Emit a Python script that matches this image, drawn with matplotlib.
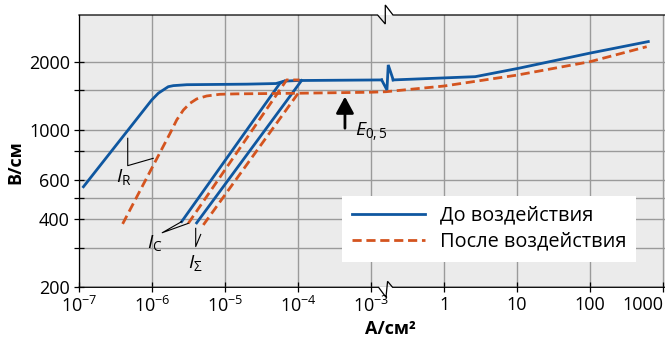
import numpy as np
import matplotlib
matplotlib.use("Agg")
import matplotlib.pyplot as plt
from matplotlib.lines import Line2D
from matplotlib.transforms import IdentityTransform
from matplotlib.ticker import FixedLocator, FixedFormatter, NullLocator

plt.rcParams['font.family'] = ['Open Sans', 'DejaVu Sans']
plt.rcParams['mathtext.fontset'] = 'custom'
plt.rcParams['mathtext.rm'] = 'Open Sans'
plt.rcParams['mathtext.it'] = 'Open Sans:italic'
plt.rcParams['mathtext.bf'] = 'Open Sans:bold'

BLUE = '#0f57a0'
ORANGE = '#d4541f'

# --- до воздействия (x: А/см2, y: В/см)
r_before_x = [1.15e-7, 9.9e-7, 1.22e-6, 1.43e-6, 1.67e-6, 1.96e-6, 3.0e-6, 2.0e-5, 5.0e-5, 6.5e-5, 1.0e-4, 1.4e-3]
r_before_y = [558, 1352, 1449, 1499, 1549, 1566, 1581, 1590, 1600, 1640, 1650, 1660]
c_before_x = [2.55e-6, 5.66e-5, 6.5e-5]
c_before_y = [391, 1604, 1640]
s_before_x = [4.09e-6, 1.12e-4]
s_before_y = [386, 1650]
hi_before_x = [0.2, 2.67, 10.6, 98, 627]
hi_before_y = [1660, 1716, 1871, 2180, 2455]

# --- после воздействия
r_after_x = [3.96e-7, 1.77e-6, 2.18e-6, 2.69e-6, 3.32e-6, 4.09e-6, 5.61e-6, 8.55e-6, 1.45e-5,
             1.0e-4, 1.0e-3, 0.16, 1.0, 10, 100, 596]
r_after_y = [382, 963, 1103, 1221, 1308, 1367, 1409, 1434, 1440,
             1449, 1464, 1472, 1560, 1744, 2000, 2330]
c_after_x = [3.14e-6, 7.0e-5, 1.05e-4]
c_after_y = [384, 1660, 1660]
s_after_x = [5.05e-6, 1.0e-4]
s_after_y = [378, 1445]

x_ticks = [1e-7, 1e-6, 1e-5, 1e-4, 1e-3, 1, 10, 100, 1000]
x_labels = ['$10^{-7}$', '$10^{-6}$', '$10^{-5}$', '$10^{-4}$', '$10^{-3}$', '1', '10', '100', '1000']
y_ticks = [200, 300, 400, 500, 600, 800, 1000, 1500, 2000]
y_labels = ['200', '', '400', '', '600', '', '1000', '', '2000']

legend_labels = ['До воздействия', 'После воздействия']

# broken log axis: decades between 10^-2.8 and 10^-0.8 are squeezed out
BRK_A, BRK_B, EPS = -2.8, -0.8, 1e-3
GAP = (BRK_B - BRK_A) * (1 - EPS)


def fwd(x):
    u = np.log10(np.maximum(np.asarray(x, float), 1e-300))
    return np.where(u <= BRK_A, u,
                    np.where(u >= BRK_B, u - GAP, BRK_A + (u - BRK_A) * EPS))


def inv(t):
    t = np.asarray(t, float)
    t1 = BRK_A + (BRK_B - BRK_A) * EPS
    with np.errstate(over='ignore'):
        mid = 10 ** np.clip(BRK_A + (t - BRK_A) / EPS, -300, 300)
    return np.where(t <= BRK_A, 10 ** t, np.where(t >= t1, 10 ** (t + GAP), mid))


fig = plt.figure(figsize=(6.65, 3.4), dpi=100)
ax = fig.add_axes([79 / 665, 52.7 / 340, 591.4 / 665, 272.3 / 340])
ax.set_facecolor('#ebebeb')
ax.set_yscale('log')
ax.set_xscale('function', functions=(fwd, inv))
ax.set_xlim(1e-7, 10 ** 3.1)
ax.set_ylim(200, 3220)

ax.xaxis.set_major_locator(FixedLocator(x_ticks))
ax.xaxis.set_major_formatter(FixedFormatter(x_labels))
ax.xaxis.set_minor_locator(NullLocator())
ax.yaxis.set_major_locator(FixedLocator(y_ticks))
ax.yaxis.set_major_formatter(FixedFormatter(y_labels))
ax.yaxis.set_minor_locator(NullLocator())
ax.grid(True, color='#9a9a9a', lw=1.0)
ax.set_axisbelow(True)
ax.tick_params(axis='both', direction='inout', length=7, width=0.9, labelsize=13, pad=3)
for sp in ['top', 'bottom', 'right']:
    ax.spines[sp].set_visible(False)
ax.spines['left'].set_linewidth(0.9)

lw = 2.0
dash = (0, (3.3, 1.7))
ax.plot(r_before_x, r_before_y, color=BLUE, lw=lw)
ax.plot(c_before_x, c_before_y, color=BLUE, lw=lw)
ax.plot(s_before_x, s_before_y, color=BLUE, lw=lw)
ax.plot(hi_before_x, hi_before_y, color=BLUE, lw=lw)
ax.plot(r_after_x, r_after_y, color=ORANGE, lw=lw, ls=dash)
ax.plot(c_after_x, c_after_y, color=ORANGE, lw=lw, ls=dash)
ax.plot(s_after_x, s_after_y, color=ORANGE, lw=lw, ls=dash)

# leaders and labels
lk = dict(color='black', lw=0.8)
ax.plot([4.65e-7, 4.65e-7, 1.04e-6], [915, 692, 746], **lk)
ax.plot([2.55e-6, 1.38e-6, 3.14e-6], [391, 349, 384], **lk)
ax.plot([3.97e-6, 3.97e-6, 4.65e-6], [365, 303, 343], **lk)
ax.text(4.13e-7, 617, r'$I_{\mathrm{R}}$', fontsize=14, ha='center', va='center')
ax.text(1.10e-6, 314, r'$I_{\mathrm{C}}$', fontsize=14, ha='center', va='center')
ax.text(3.88e-6, 256, r'$I_{\Sigma}$', fontsize=14, ha='center', va='center')

ax.annotate('', xy=(4.4e-4, 1400), xytext=(4.4e-4, 1014),
            arrowprops=dict(arrowstyle='-|>,head_length=0.5,head_width=0.27',
                            color='black', lw=2, mutation_scale=20, shrinkA=0, shrinkB=0))
ax.text(6.04e-4, 976, r'$E_{\mathrm{0,5}}$', fontsize=14, ha='left', va='center')

xt = ax.get_xticklabels()
xt[-1].set_horizontalalignment('right')

handles = [Line2D([], [], color=BLUE, lw=lw), Line2D([], [], color=ORANGE, lw=lw, ls=dash)]
ax.legend(handles, legend_labels, loc='lower left', bbox_to_anchor=(0.444, 0.094),
          borderaxespad=0, fancybox=False, edgecolor='none', facecolor='white', framealpha=1,
          fontsize=14.3, handlelength=3.7, handletextpad=0.75, borderpad=0.5, labelspacing=0.3)

fig.text(15 / 665, 1 - 161.7 / 340, 'В/см', rotation=90, fontsize=13, fontweight='bold',
         ha='center', va='center')
fig.text(390 / 665, 1 - 329 / 340, 'А/см²', fontsize=13, fontweight='bold',
         ha='center', va='center')

# spine breaks and the break on the "before" line
def zig(points, **kw):
    xs = [p[0] for p in points]
    ys = [p[1] for p in points]
    fig.add_artist(Line2D(xs, ys, transform=IdentityTransform(), **kw))

x0, y0 = ax.transAxes.transform((0, 0))
x1, y1 = ax.transAxes.transform((1, 1))
bx = ax.transData.transform((10 ** BRK_A, 1000))[0]
sk = dict(color='black', lw=0.9, solid_joinstyle='miter')
xs = bx - 8
zig([(x0, y1), (xs, y1), (xs + 7.7, y1 - 9), (xs + 7.7, y1 + 10), (xs + 15.4, y1), (x1, y1)], **sk)
xs = bx - 7
zig([(x0, y0), (xs, y0), (xs + 7.4, y0 - 10), (xs + 9, y0 + 6), (xs + 14, y0), (x1, y0)], **sk)
px, py = ax.transData.transform((r_before_x[-1], r_before_y[-1]))
zig([(px, py), (px + 5.3, py - 10), (px + 6.6, py + 15), (px + 11.6, py)],
    color=BLUE, lw=lw, solid_joinstyle='miter')

fig.savefig('out.png', dpi=100)
